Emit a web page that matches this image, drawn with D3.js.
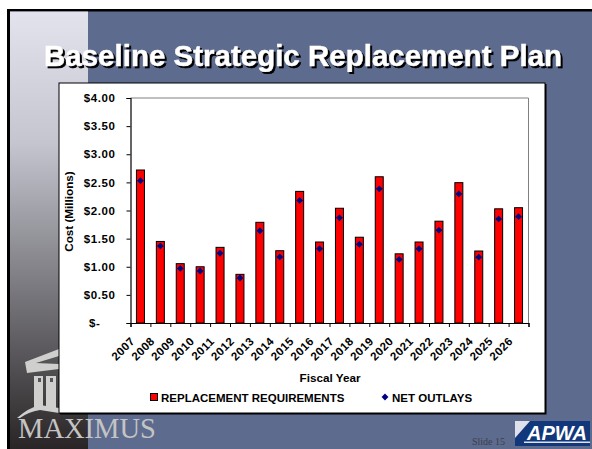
<!DOCTYPE html>
<html>
<head>
<meta charset="utf-8">
<script src="https://cdn.jsdelivr.net/npm/d3@7"></script>
<style>
  html, body { margin: 0; padding: 0; background: #fff; }
  svg { display: block; }
  text { font-family: "Liberation Sans", Arial, sans-serif; }
  text.serif { font-family: "Liberation Serif", serif; }
</style>
</head>
<body>
<div id="chart"></div>
<script>
// ── DATA ─────────────────────────────────────────────────────────────────────
const YEARS = ['2007','2008','2009','2010','2011','2012','2013','2014','2015','2016',
               '2017','2018','2019','2020','2021','2022','2023','2024','2025','2026'];
const REPLACEMENT = [2.72,1.45,1.055,1.00,1.345,0.865,1.79,1.285,2.34,1.44,
                     2.04,1.525,2.60,1.23,1.44,1.81,2.495,1.28,2.03,2.05];
const NET_OUTLAYS = [2.53,1.37,0.97,0.925,1.24,0.80,1.64,1.175,2.18,1.32,
                     1.87,1.40,2.385,1.13,1.32,1.65,2.295,1.17,1.85,1.89];
const Y_TICKS = [0,0.5,1,1.5,2,2.5,3,3.5,4];

// ── DIMENSIONS ───────────────────────────────────────────────────────────────
const W = 592, H = 449;
const plot = { left: 130.5, right: 528.5, top: 98, bottom: 323 };

const svg = d3.select('#chart').append('svg')
  .attr('width', W).attr('height', H);

const defs = svg.append('defs');
const grad = defs.append('linearGradient')
  .attr('id', 'side-grad')
  .attr('x1', 0).attr('x2', 0).attr('y1', 0).attr('y2', 1);
grad.append('stop').attr('offset', '0%').attr('stop-color', '#e2e3ed');
grad.append('stop').attr('offset', '30%').attr('stop-color', '#c4c5cf');
grad.append('stop').attr('offset', '62%').attr('stop-color', '#7d7c82');
grad.append('stop').attr('offset', '100%').attr('stop-color', '#292526');

// ── SLIDE BACKGROUND ─────────────────────────────────────────────────────────
svg.append('rect').attr('x', 7).attr('y', 9).attr('width', W - 7).attr('height', H - 9).attr('fill', '#000');
svg.append('rect').attr('x', 10).attr('y', 11.5).attr('width', W - 10).attr('height', H - 11.5).attr('fill', '#5d6b8e');
svg.append('rect').attr('x', 10).attr('y', 11.5).attr('width', 78).attr('height', H - 11.5).attr('fill', 'url(#side-grad)');

// ── TITLE ────────────────────────────────────────────────────────────────────
svg.append('text').attr('x', 44).attr('y', 65.5)
  .attr('font-size', 29.5).attr('font-weight', 700)
  .attr('fill', '#fff').attr('stroke', '#fff').attr('stroke-width', 0.5)
  .style('filter', 'drop-shadow(2px 2px 0 #000)')
  .text('Baseline Strategic Replacement Plan');

// ── MAXIMUS LOGO ─────────────────────────────────────────────────────────────
const logo = svg.append('g').attr('fill', '#cfcfcd').attr('stroke', 'none');
logo.append('path').attr('d', 'M25,362 L59,349 L59,356 L36,363 L59,364 L59,369 L27,373 Z');
logo.append('rect').attr('x', 34).attr('y', 376).attr('width', 9).attr('height', 34);
logo.append('rect').attr('x', 46).attr('y', 376).attr('width', 10).attr('height', 34);
logo.append('rect').attr('x', 38).attr('y', 378).attr('width', 3).attr('height', 4).attr('fill', '#55545a');
logo.append('rect').attr('x', 50).attr('y', 378).attr('width', 3).attr('height', 4).attr('fill', '#55545a');
logo.append('path').attr('d', 'M17,418 Q28,408 40,405 L59,408 L59,413 L40,410 Q28,412 20,418 Z');
svg.append('text').attr('class', 'serif').attr('x', 18).attr('y', 438)
  .attr('font-size', 29).attr('fill', '#c4c4c4')
  .attr('textLength', 138).attr('lengthAdjust', 'spacingAndGlyphs').text('MAXIMUS');

// ── APWA LOGO + SLIDE NUMBER ─────────────────────────────────────────────────
svg.append('text').attr('class', 'serif').attr('x', 472).attr('y', 445)
  .attr('font-size', 10).attr('fill', '#3a3f4c').text('Slide 15');
svg.append('rect').attr('x', 515).attr('y', 421).attr('width', 75).attr('height', 25).attr('fill', '#12377a');
svg.append('path').attr('d', 'M515,421 L530,421 L515,438 Z').attr('fill', '#dfe2ec');
svg.append('rect').attr('x', 524).attr('y', 441.5).attr('width', 66).attr('height', 1.5).attr('fill', '#dfe2ec');
svg.append('text').attr('x', 527).attr('y', 440)
  .attr('font-size', 20).attr('font-weight', 700).attr('font-style', 'italic')
  .attr('fill', '#fff').attr('textLength', 60).attr('lengthAdjust', 'spacingAndGlyphs').text('APWA');

// ── CHART PANEL ──────────────────────────────────────────────────────────────
svg.append('rect').attr('x', 60).attr('y', 84).attr('width', 486.5).attr('height', 330.5).attr('fill', '#000');
svg.append('rect').attr('x', 59).attr('y', 83).attr('width', 486).attr('height', 330)
  .attr('fill', '#fff').attr('stroke', '#000').attr('stroke-width', 1);

// ── SCALES ───────────────────────────────────────────────────────────────────
const x = d3.scaleBand().domain(YEARS).range([plot.left, plot.right]);
const y = d3.scaleLinear().domain([0, 4]).range([plot.bottom, plot.top]);
const barW = 8;

const fmtDollar = d => d === 0 ? '$-' : '$' + d.toFixed(2);

// plot frame top / right
svg.append('path')
  .attr('d', `M${plot.left},${plot.top}H${plot.right}V${plot.bottom}`)
  .attr('fill', 'none').attr('stroke', '#808080').attr('stroke-width', 1);

// ── BARS ─────────────────────────────────────────────────────────────────────
svg.append('g').selectAll('rect')
  .data(REPLACEMENT)
  .join('rect')
    .attr('x', (d, i) => x(YEARS[i]) + x.bandwidth() / 2 - barW / 2)
    .attr('y', d => y(d))
    .attr('width', barW)
    .attr('height', d => y(0) - y(d))
    .attr('fill', '#ff0000')
    .attr('stroke', '#000')
    .attr('stroke-width', 1);

// ── MARKERS ──────────────────────────────────────────────────────────────────
const diamond = d3.symbol().type(d3.symbolDiamond2).size(30);
svg.append('g').selectAll('path')
  .data(NET_OUTLAYS)
  .join('path')
    .attr('d', diamond)
    .attr('transform', (d, i) => `translate(${x(YEARS[i]) + x.bandwidth() / 2},${y(d)})`)
    .attr('fill', '#000080');

// ── AXES ─────────────────────────────────────────────────────────────────────
const yAxis = svg.append('g')
  .attr('transform', `translate(${plot.left},0)`)
  .call(d3.axisLeft(y).tickValues(Y_TICKS).tickFormat(fmtDollar).tickSize(4).tickPadding(11));
yAxis.selectAll('line').attr('stroke', '#000');
yAxis.select('.domain').attr('stroke', '#000').attr('stroke-width', 1.2);
yAxis.selectAll('text')
  .attr('font-size', 11.5).attr('font-weight', 700).attr('fill', '#000')
  .attr('letter-spacing', 0.6);
yAxis.selectAll('.tick').filter(d => d === 0).select('text').attr('dx', -15);

const xAxis = svg.append('g')
  .attr('transform', `translate(0,${plot.bottom})`)
  .call(d3.axisBottom(d3.scaleLinear().domain([0, YEARS.length]).range([plot.left, plot.right]))
    .ticks(YEARS.length).tickFormat('').tickSize(4));
xAxis.selectAll('line').attr('stroke', '#000');
xAxis.select('.domain').attr('stroke', '#000').attr('stroke-width', 1.2);

svg.append('g').selectAll('text')
  .data(YEARS)
  .join('text')
    .attr('transform', d => `translate(${x(d) + x.bandwidth() / 2 - 5},${plot.bottom + 19}) rotate(-45)`)
    .attr('text-anchor', 'end')
    .attr('font-size', 11.5).attr('font-weight', 700).attr('fill', '#000')
    .attr('letter-spacing', 0.4)
    .text(d => d);

svg.append('text')
  .attr('x', 330).attr('y', 382)
  .attr('text-anchor', 'middle')
  .attr('font-size', 11.7).attr('font-weight', 700).text('Fiscal Year');

svg.append('text')
  .attr('transform', `translate(73,${(plot.top + plot.bottom) / 2 + 1}) rotate(-90)`)
  .attr('text-anchor', 'middle')
  .attr('font-size', 11.7).attr('font-weight', 700).text('Cost (Millions)');

// ── LEGEND ───────────────────────────────────────────────────────────────────
svg.append('rect').attr('x', 150.5).attr('y', 393.5).attr('width', 7).attr('height', 7)
  .attr('fill', '#ff0000').attr('stroke', '#000');
svg.append('text').attr('x', 161).attr('y', 401.5)
  .attr('font-size', 11.5).attr('font-weight', 700).text('REPLACEMENT REQUIREMENTS');
svg.append('path').attr('d', diamond)
  .attr('transform', 'translate(385,397)').attr('fill', '#000080');
svg.append('text').attr('x', 392).attr('y', 401.5)
  .attr('font-size', 11.5).attr('font-weight', 700).text('NET OUTLAYS');
</script>
</body>
</html>
